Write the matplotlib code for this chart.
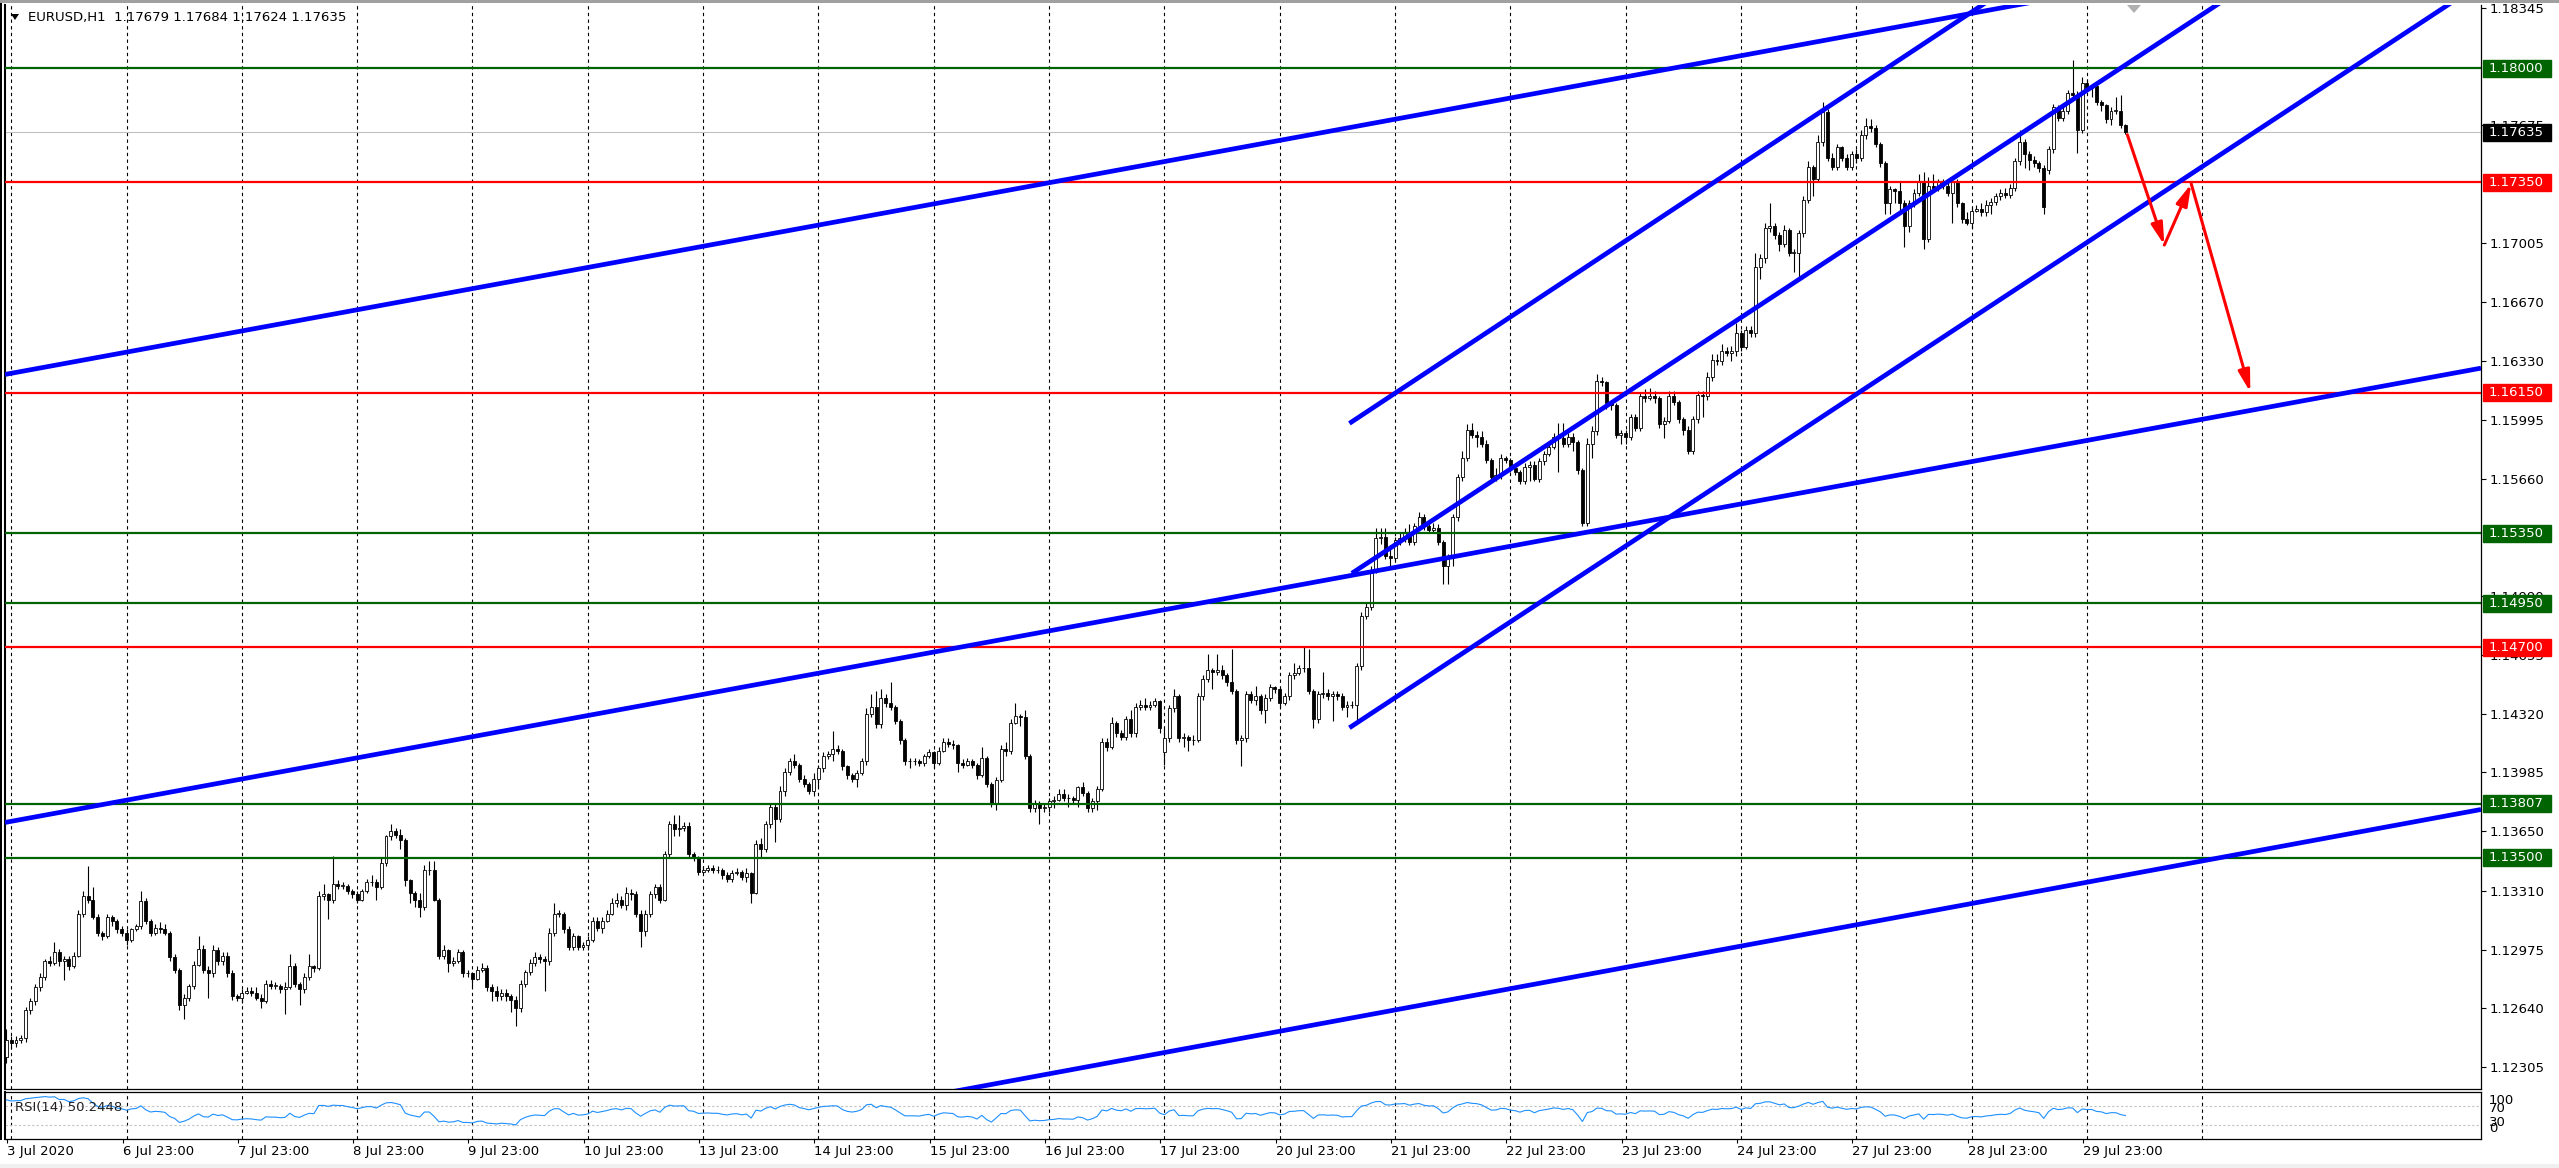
import numpy as np
import matplotlib
matplotlib.use("Agg")
import matplotlib.pyplot as plt
from matplotlib.patches import Rectangle, Polygon
import matplotlib.transforms as mtransforms

plt.rcParams['font.family'] = ['DejaVu Sans']

# ---------------- DATA (prices in pips above 1.1000) ----------------
BASE, PIP = 1.1, 0.0001

opens_pips = [
 236,246,244,246,247,263,268,276,282,291, 290,296,291,292,288,294,318,328,326,316,
 307,305,316,314,309,307,303,309,311,325, 314,307,310,309,307,293,286,266,270,277,
 289,298,286,284,297,291,294,284,271,270, 273,274,273,270,268,278,277,277,275,276,
 288,278,275,282,288,287,328,329,326,335, 334,334,331,329,326,331,336,336,333,347,
 362,365,363,360,337,330,326,322,343,343, 326,294,297,290,291,296,284,284,281,286,
 287,276,274,271,273,271,269,264,278,285, 290,293,292,291,307,318,318,309,299,305,
 299,300,303,314,310,314,318,324,326,323, 330,329,318,308,318,329,333,326,352,369,
 366,367,368,352,350,342,343,344,343,343, 340,338,341,342,339,341,330,358,355,369,
 379,372,388,399,405,403,395,392,388,395, 401,408,409,412,411,402,397,395,398,405,
 432,436,426,441,438,436,428,417,405,405, 405,404,408,410,404,411,416,415,414,404,
 403,405,403,397,407,392,381,394,412,411, 427,431,430,408,378,381,378,379,382,383,
 386,384,384,383,390,387,378,382,389,416, 413,427,421,419,429,421,436,437,436,437,
 439,410,418,435,442,418,419,417,417,442, 452,457,456,457,454,450,445,417,418,443,
 440,442,434,441,447,446,438,442,454,455, 458,458,445,429,443,444,442,443,442,436,
 437,437,459,488,493,514,532,533,522,521, 531,532,535,530,539,544,539,537,538,530,
 516,521,544,567,578,594,591,590,586,577, 567,568,578,577,572,570,565,573,574,566,
 576,580,584,590,589,586,590,587,571,541, 586,593,622,621,609,608,591,592,590,601,
 595,613,612,613,612,597,599,613,610,600, 594,582,600,614,613,624,634,633,639,638,
 639,649,641,651,649,687,692,709,710,705, 700,708,695,695,706,725,744,737,758,775,
 749,744,755,749,744,751,749,762,767,766, 757,746,723,731,730,723,710,723,729,735,
 703,733,732,735,733,729,735,723,714,712, 719,720,718,722,724,727,729,728,732,747,
 758,751,748,746,743,742,754,778,772,776, 786,785,765,792,789,790,781,779,771,776,
 776,767.9]

highs_pips = [
 252,248,248,249,265,270,278,284,292,294, 302,298,294,294,296,320,331,345,333,318,
 308,318,317,315,311,309,310,312,331,327, 315,312,313,312,308,295,287,272,278,291,
 305,300,288,300,299,296,296,286,272,275, 276,276,276,272,280,280,279,278,279,295,
 290,279,284,295,289,331,335,330,351,337, 336,335,332,331,332,338,340,338,350,363,
 369,367,366,361,338,331,330,346,348,348, 327,300,298,293,298,297,286,285,288,290,
 289,278,277,275,275,272,271,280,286,292, 296,295,294,310,324,320,319,311,307,306,
 302,305,316,316,316,320,327,330,328,333, 332,331,320,320,331,335,335,354,371,374,
 374,370,370,353,351,345,346,346,345,344, 342,343,344,343,344,342,360,361,371,381,
 381,391,401,407,409,404,397,393,398,403, 410,411,422,414,412,403,398,400,407,435,
 443,445,446,443,450,437,429,418,407,407, 406,409,412,411,413,418,418,417,415,406,
 407,406,404,413,408,393,396,414,416,429, 438,432,434,409,383,382,381,384,385,389,
 389,386,385,391,393,388,384,391,418,418, 430,428,423,431,434,438,440,441,439,441,
 440,424,437,446,443,421,420,420,444,454, 466,458,466,460,455,469,446,420,445,445,
 448,443,443,449,448,447,444,456,461,460, 470,469,446,445,456,446,445,445,444,439,
 439,461,490,495,516,538,538,538,527,533, 535,538,540,541,547,546,540,541,540,531,
 523,546,569,582,597,598,593,593,588,578, 572,580,579,578,573,571,575,576,576,578,
 582,586,592,598,598,592,592,588,572,589, 596,626,624,622,611,609,594,594,603,603,
 615,617,618,616,613,601,616,616,611,601, 596,602,616,616,627,637,637,643,641,642,
 655,651,653,653,695,694,712,723,712,707, 711,709,697,708,727,747,745,762,781,777,
 752,757,756,751,753,754,765,772,771,768, 758,747,733,732,736,725,725,731,740,741,
 738,740,737,737,736,738,737,724,718,721, 722,723,725,726,729,731,732,734,749,765,
 760,753,750,747,745,756,780,779,778,788, 805,787,795,794,791,792,782,780,778,784,
 785,768.4]

lows_pips = [
 233,241,242,244,245,261,266,274,280,288, 289,288,280,286,287,293,316,324,315,305,
 303,304,311,307,305,300,302,308,309,312, 305,306,307,306,291,284,263,258,268,275,
 288,284,270,282,289,289,282,269,268,267, 272,271,269,264,267,275,275,273,261,275,
 276,266,273,280,285,286,326,315,324,332, 332,329,327,324,325,330,334,326,332,345,
 360,361,355,334,324,322,316,320,340,325, 292,292,285,288,290,282,282,276,280,285,
 274,268,268,269,268,262,254,262,276,283, 288,290,274,289,305,316,307,297,297,297,
 297,297,302,308,307,313,317,322,321,320, 326,316,299,305,316,327,324,325,350,362,
 362,365,350,348,340,341,342,341,341,338, 336,336,340,337,336,324,329,350,353,367,
 359,370,385,397,401,393,390,386,385,390, 399,406,405,409,400,395,393,390,397,403,
 430,424,424,436,434,426,415,403,401,403, 402,402,407,401,403,410,413,412,399,401,
 402,401,395,396,390,379,377,393,408,409, 426,425,406,376,376,369,376,376,378,382,
 382,379,381,379,385,376,376,377,388,411, 412,419,417,417,419,419,434,434,434,436,
 421,403,416,433,416,413,411,414,416,440, 450,446,454,452,448,443,415,402,416,438,
 437,432,427,439,444,436,437,440,452,454, 456,443,424,427,441,440,428,440,434,430,
 435,428,457,486,491,512,529,520,516,519, 528,530,528,528,537,537,535,535,528,506,
 506,516,542,565,576,589,584,584,575,565, 565,566,575,570,568,563,563,565,565,564,
 574,579,583,570,584,584,582,569,539,539, 578,591,619,606,605,589,586,586,588,593,
 593,610,611,609,595,589,598,608,598,591, 580,580,598,601,611,622,631,631,636,633,
 636,639,640,647,647,680,689,707,703,696, 698,693,684,681,704,723,727,735,756,747,
 742,742,747,742,742,746,747,760,764,755, 744,717,717,723,718,698,707,721,727,697,
 701,730,730,731,727,712,721,712,711,709, 718,716,716,717,722,725,726,726,730,745,
 743,742,744,741,717,740,752,770,770,774, 782,752,763,787,784,779,776,769,768,774,
 766,762.4]

closes_pips = [
 246,244,246,247,263,268,276,282,291,290, 296,291,292,288,294,318,328,326,316,307,
 305,316,314,309,307,303,309,311,325,314, 307,310,309,307,293,286,266,270,277,289,
 298,286,284,297,291,294,284,271,270,273, 274,273,270,268,278,277,277,275,276,288,
 278,275,282,288,287,328,329,326,335,334, 334,331,329,326,331,336,336,333,347,362,
 365,363,360,337,330,326,322,343,343,326, 294,297,290,291,296,284,284,281,286,287,
 276,274,271,273,271,269,264,278,285,290, 293,292,291,307,318,318,309,299,305,299,
 300,303,314,310,314,318,324,326,323,330, 329,318,308,318,329,333,326,352,369,366,
 367,368,352,350,342,343,344,343,343,340, 338,341,342,339,341,330,358,355,369,379,
 372,388,399,405,403,395,392,388,395,401, 408,409,412,411,402,397,395,398,405,432,
 436,426,441,438,436,428,417,405,405,405, 404,408,410,404,411,416,415,414,404,403,
 405,403,397,407,392,381,394,412,411,427, 431,430,408,378,381,378,379,382,383,386,
 384,384,383,390,387,378,382,389,416,413, 427,421,419,429,421,436,437,436,437,439,
 424,418,435,442,418,419,417,417,442,452, 457,456,457,454,450,445,417,418,443,440,
 442,434,441,447,446,438,442,454,455,458, 458,445,429,443,444,442,443,442,436,437,
 437,459,488,493,514,532,533,522,521,531, 532,535,530,539,544,539,537,538,530,516,
 521,544,567,578,594,591,590,586,577,567, 568,578,577,572,570,565,573,574,566,576,
 580,584,590,589,586,590,587,571,541,586, 593,622,621,609,608,591,592,590,601,595,
 613,612,613,612,597,599,613,610,600,594, 582,600,614,613,624,634,633,639,638,639,
 649,641,651,649,687,692,709,710,705,700, 708,695,695,706,725,744,737,758,775,749,
 744,755,749,744,751,749,762,767,766,757, 746,723,731,730,723,710,723,729,735,703,
 733,732,735,733,729,735,723,714,712,719, 720,718,722,724,727,729,728,732,747,758,
 751,748,746,743,721,754,778,772,776,786, 785,765,792,789,790,781,779,771,776,776,
 768,763.5]

date_labels = ["3 Jul 2020", "6 Jul 23:00", "7 Jul 23:00", "8 Jul 23:00", "9 Jul 23:00",
               "10 Jul 23:00", "13 Jul 23:00", "14 Jul 23:00", "15 Jul 23:00", "16 Jul 23:00",
               "17 Jul 23:00", "20 Jul 23:00", "21 Jul 23:00", "22 Jul 23:00", "23 Jul 23:00",
               "24 Jul 23:00", "27 Jul 23:00", "28 Jul 23:00", "29 Jul 23:00"]

# right-axis price scale labels (those fully hidden behind level boxes are omitted)
price_ticks = [1.12305, 1.12640, 1.12975, 1.13310, 1.13650, 1.13985, 1.14320, 1.14655,
               1.14990, 1.15660, 1.15995, 1.16330, 1.16670, 1.17005,
               1.17675, 1.18345]

green_levels = [1.18000, 1.15350, 1.14950, 1.13807, 1.13500]
red_levels = [1.17350, 1.16150, 1.14700]
current_price = 1.17635

# trend lines: anchor points (bar index, price)
trend_lines = [
    ((-0.3, 1.16255), (426.0, 1.18400)),
    ((-0.3, 1.13700), (515.0, 1.16291)),
    ((190.0, 1.12130), (515.0, 1.13774)),
    ((279.5, 1.15976), (413.3, 1.18400)),
    ((280.0, 1.15121), (462.1, 1.18400)),
    ((279.5, 1.14240), (510.2, 1.18400)),
]
# forecast arrows path (bar index, price)
arrow_path = [(441.4, 1.17622), (449.1, 1.16993), (454.7, 1.17342), (467.0, 1.16154)]

title_text = "EURUSD,H1  1.17679 1.17684 1.17624 1.17635"
rsi_text = "RSI(14) 50.2448"

# ---------------- FIGURE ----------------
W, H = 2559, 1168
fig = plt.figure(figsize=(W / 100, H / 100), dpi=100)
fig.patch.set_facecolor('white')

def fx(px):
    return px / W

def fy(py):
    return 1 - py / H

ax = fig.add_axes([fx(5), fy(1089), fx(2481) - fx(5), fy(5) - fy(1089)])
rax = fig.add_axes([fx(5), fy(1139), fx(2481) - fx(5), fy(1092) - fy(1139)])

X_MIN, X_MAX = -0.29, 515.0
Y_MIN, Y_MAX = 1.12180, 1.18362
ax.set_xlim(X_MIN, X_MAX)
ax.set_ylim(Y_MIN, Y_MAX)
rax.set_xlim(X_MIN, X_MAX)
rax.set_ylim(0, 100)

o = BASE + np.array(opens_pips, float) * PIP
h = BASE + np.array(highs_pips, float) * PIP
l = BASE + np.array(lows_pips, float) * PIP
c = BASE + np.array(closes_pips, float) * PIP
n = min(len(o), len(h), len(l), len(c))
o, h, l, c = o[:n], h[:n], l[:n], c[:n]
idx = np.arange(n)

# grid
grid_pos = [1 + 24 * k for k in range(20)]
for g in grid_pos:
    for a in (ax, rax):
        a.axvline(g, color='black', lw=0.8, ls=(0, (3, 3)), zorder=1)

ax.axhline(current_price, color='#C0C0C0', lw=0.8, zorder=1)

# candles
ax.vlines(idx, l, h, colors='black', linewidth=0.8, zorder=2)
body_lo = np.minimum(o, c)
body_h = np.maximum(np.abs(c - o), 0.000012)
cols = np.where(c >= o, 'white', 'black')
ax.bar(idx, body_h, bottom=body_lo, width=0.62, color=cols, edgecolor='black',
       linewidth=0.6, zorder=3)

GREEN = '#006400'
RED = '#FF0000'
for lv in green_levels:
    ax.axhline(lv, color=GREEN, lw=1.6, zorder=4)
for lv in red_levels:
    ax.axhline(lv, color=RED, lw=1.6, zorder=4)

for (x1, p1), (x2, p2) in trend_lines:
    ax.plot([x1, x2], [p1, p2], color='#0000FF', lw=3.4, solid_capstyle='butt', zorder=5)

for (x1, p1), (x2, p2) in zip(arrow_path[:-1], arrow_path[1:]):
    ax.annotate('', xy=(x2, p2), xytext=(x1, p1),
                arrowprops=dict(arrowstyle='-|>,head_length=1.3,head_width=0.35',
                                color=RED, lw=2.2, shrinkA=0, shrinkB=0), zorder=6)

# axes styling
FS = 9.5
ax.set_xticks([])
ax.yaxis.tick_right()
ax.set_yticks(price_ticks)
ax.set_yticklabels([f"{t:.5f}" for t in price_ticks])
ax.tick_params(axis='y', direction='out', length=3.6, width=0.8, pad=2.5,
               labelsize=FS, colors='black')
for s in ['left', 'right', 'bottom']:
    ax.spines[s].set_color('black')
    ax.spines[s].set_linewidth(0.9)
ax.spines['top'].set_visible(False)
ax.spines['left'].set_linewidth(1.5)

# price boxes
pxu = (fy(5) - fy(1089)) * H / (Y_MAX - Y_MIN)
hh = 8.5 / pxu
blend = mtransforms.blended_transform_factory(fig.transFigure, ax.transData)

def price_box(level, color):
    ax.add_patch(Rectangle((fx(2483), level - hh), fx(2551) - fx(2483), 2 * hh,
                           transform=blend, facecolor=color, edgecolor=color,
                           clip_on=False, zorder=10))
    ax.text(fx(2489), level, f"{level:.5f}", transform=blend, color='white',
            fontsize=FS, va='center', ha='left', clip_on=False, zorder=11)

for lv in green_levels:
    price_box(lv, GREEN)
for lv in red_levels:
    price_box(lv, RED)
price_box(current_price, 'black')

# RSI (14) computed from the closes
cl = c * 1.0
d = np.diff(cl)
gains = np.clip(d, 0, None)
losses = np.clip(-d, 0, None)
ag = gains[:14].mean()
al = losses[:14].mean()
rsi = [100 - 100 / (1 + ag / al)]
for g_, l_ in zip(gains, losses):
    ag = (ag * 13 + g_) / 14
    al = (al * 13 + l_) / 14
    rsi.append(100 - 100 / (1 + ag / al) if al > 0 else 100)
rax.axhline(70, color='#C0C0C0', lw=0.8, ls=(0, (2, 2)), zorder=1)
rax.axhline(30, color='#C0C0C0', lw=0.8, ls=(0, (2, 2)), zorder=1)
rax.plot(idx, rsi, color='#1E90FF', lw=0.8, zorder=3)
rax.text(0.004, 0.68, rsi_text, transform=rax.transAxes, fontsize=FS, va='center',
         ha='left', color='#202020', zorder=4)

tick_pos = [g - 0.83 for g in grid_pos[:len(date_labels)]]
rax.set_xticks(tick_pos)
rax.set_xticklabels(date_labels, ha='left')
rax.tick_params(axis='x', direction='out', length=3, width=0.8, pad=1.5, labelsize=FS)
rax.set_yticks([])
for s in rax.spines.values():
    s.set_color('black')
    s.set_linewidth(0.9)
rax.spines['left'].set_linewidth(1.5)

for txt, py in [("100", 1101), ("70", 1108), ("30", 1122), ("0", 1129)]:
    fig.text(fx(2489), fy(py), txt, fontsize=FS, va='center', ha='left', color='black')

# window decorations
fig.add_artist(Rectangle((0, fy(3)), 1, 3 / H, transform=fig.transFigure,
                         facecolor='#A0A0A0', edgecolor='none'))
fig.add_artist(Rectangle((0, 0), 1, 4 / H, transform=fig.transFigure,
                         facecolor='#F0F0F0', edgecolor='none'))
fig.add_artist(Rectangle((0, fy(1140)), 2 / W, (1140 - 3) / H, transform=fig.transFigure,
                         facecolor='black', edgecolor='none'))
fig.add_artist(Polygon([(fx(11), fy(14)), (fx(19), fy(14)), (fx(15), fy(20))],
                       closed=True, transform=fig.transFigure, facecolor='black',
                       edgecolor='none'))
fig.add_artist(Polygon([(fx(2127), fy(5)), (fx(2141), fy(5)), (fx(2134), fy(13))],
                       closed=True, transform=fig.transFigure, facecolor='#B0B0B0',
                       edgecolor='none'))
fig.text(fx(28), fy(18), title_text, fontsize=FS, va='center', ha='left', color='black')

fig.savefig('out.png', dpi=100, facecolor='white')
